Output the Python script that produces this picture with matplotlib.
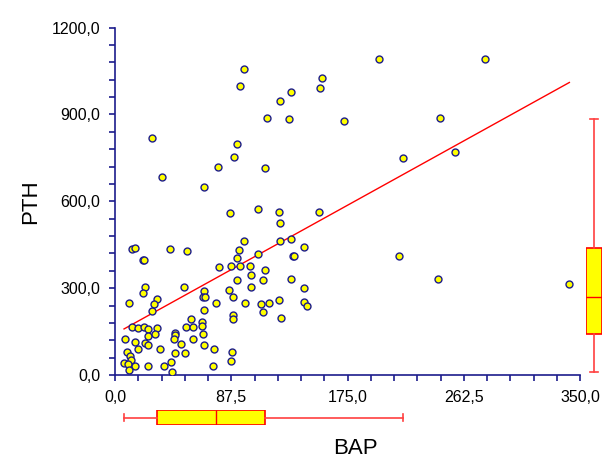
import numpy as np
import matplotlib
matplotlib.use("Agg")
import matplotlib.pyplot as plt
from matplotlib.ticker import MultipleLocator, FuncFormatter

plt.rcParams['font.family'] = ['Liberation Sans', 'DejaVu Sans']

# BAP (x) and PTH (y)
bap = [97.3, 94.1, 132.2, 124.0, 114.2, 131.2, 27.6, 91.6, 89.6, 77.8,
       113.1, 35.1, 67.2, 198.7, 278.3, 155.6, 154.1, 172.1, 244.6, 216.5,
       255.9, 153.5, 132.5, 142.5, 133.7, 135.0, 213.5, 242.9, 132.5, 142.5,
       142.5, 144.7, 342.0, 86.6, 107.9, 123.7, 124.4, 97.1, 124.2, 93.1,
       107.9, 91.6, 78.0, 87.1, 94.1, 101.8, 112.7, 102.1, 102.4, 111.6,
       92.0, 67.2, 66.0, 67.5, 85.6, 89.0, 75.8, 97.6, 109.7, 115.7,
       123.7, 67.2, 111.6, 89.0, 89.0, 124.9, 65.5, 65.5, 66.5, 66.8,
       74.7, 87.8, 87.3, 73.5, 22.8, 20.8, 51.7, 10.5, 31.6, 29.1,
       27.6, 13.0, 17.3, 21.6, 25.1, 31.8, 24.6, 30.3, 7.8, 15.1,
       22.4, 25.1, 17.5, 33.6, 44.9, 44.9, 44.6, 49.7, 53.2, 58.5,
       57.2, 58.9, 52.9, 45.2, 9.3, 11.3, 11.8, 6.8, 10.0, 14.8,
       10.8, 24.6, 36.7, 42.1, 42.9, 12.6, 14.8, 20.8, 22.0, 41.2,
       54.4]
pth = [1058, 1000, 977, 947, 889, 883, 819, 799, 754, 718,
       716, 685, 649, 1090, 1093, 1027, 990, 877, 889, 751,
       769, 563, 469, 443, 411, 411, 412, 332, 332, 300,
       253, 237, 313, 561, 572, 564, 524, 464, 464, 431,
       417, 405, 373, 378, 378, 378, 364, 346, 305, 327,
       328, 291, 268, 268, 293, 270, 249, 250, 245, 249,
       259, 224, 219, 207, 193, 196, 184, 169, 142, 104,
       89, 79, 49, 31, 303, 282, 304, 250, 262, 246,
       221, 167, 162, 165, 160, 163, 136, 143, 125, 115,
       110, 104, 91, 90, 146, 137, 125, 107, 165, 166,
       193, 123, 76, 75, 78, 66, 52, 40, 37, 30,
       17, 31, 31, 46, 10, 434, 440, 396, 396, 435,
       428]

x = np.array(bap)
y = np.array(pth)

navy = '#1c1c8c'
W, H = 602, 457
fig = plt.figure(figsize=(W / 100, H / 100), dpi=100)

def px_axes(l, r, t, b):
    return fig.add_axes([l / W, 1 - b / H, (r - l) / W, (b - t) / H])

ax = px_axes(115, 580, 27.6, 375)
ax.scatter(x, y, s=25, facecolor='#ffff00', edgecolor=navy, linewidth=1, zorder=3)

# regression line
k, b0 = np.polyfit(x, y, 1)
xl = np.array([x.min(), x.max()])
ax.plot(xl, k * xl + b0, color='red', linewidth=1, zorder=2)

ax.set_xlim(0, 350)
ax.set_ylim(0, 1200)
for s in ['top', 'right']:
    ax.spines[s].set_visible(False)
for s in ['left', 'bottom']:
    ax.spines[s].set_color(navy)
    ax.spines[s].set_linewidth(1.2)

fmt = FuncFormatter(lambda v, p: f"{v:.1f}".replace('.', ','))
ax.xaxis.set_major_locator(MultipleLocator(87.5))
ax.xaxis.set_minor_locator(MultipleLocator(17.5))
ax.yaxis.set_major_locator(MultipleLocator(300))
ax.yaxis.set_minor_locator(MultipleLocator(60))
ax.xaxis.set_major_formatter(fmt)
ax.yaxis.set_major_formatter(fmt)
ax.tick_params(which='both', direction='out', length=4.5, width=1.2, color=navy,
               labelsize=11.5, pad=6)
ax.set_ylabel('PTH', fontsize=16, labelpad=8)

# box plot of PTH on the right
axr = px_axes(586, 602, 27.6, 375)
axr.boxplot(y, positions=[0], widths=1, showfliers=False, patch_artist=True,
            boxprops=dict(facecolor='#ffff00', edgecolor='red', linewidth=1.2),
            medianprops=dict(color='red', linewidth=1),
            whiskerprops=dict(color='#ff4040', linewidth=1.2),
            capprops=dict(color='#ff4040', linewidth=1.2))
axr.set_xlim(-0.5, 0.5)
axr.set_ylim(0, 1200)
axr.axis('off')

# box plot of BAP at the bottom
axb = px_axes(115, 580, 410.3, 425)
axb.boxplot(x, positions=[0], widths=1, vert=False, showfliers=False, patch_artist=True,
            boxprops=dict(facecolor='#ffff00', edgecolor='red', linewidth=1.2),
            medianprops=dict(color='red', linewidth=1),
            whiskerprops=dict(color='#ff4040', linewidth=1.2),
            capprops=dict(color='#ff4040', linewidth=1.2))
axb.set_ylim(-0.5, 0.5)
axb.set_xlim(0, 350)
axb.axis('off')

fig.text(355 / W, 1 - 448 / H, 'BAP', fontsize=16, ha='center', va='center')

fig.savefig('out.png', dpi=100)
